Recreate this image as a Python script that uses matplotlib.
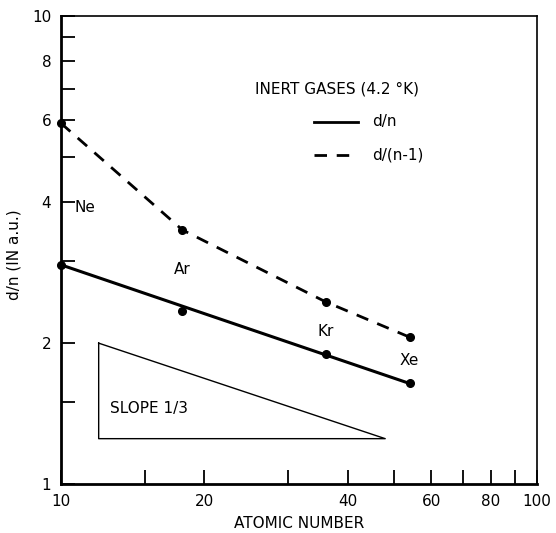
import matplotlib
matplotlib.use("Agg")
import matplotlib.pyplot as plt
from matplotlib.ticker import FixedLocator, FixedFormatter, NullLocator

# Data
elements = ["Ne", "Ar", "Kr", "Xe"]
atomic_number = [10, 18, 36, 54]
d_over_n = [2.94, 2.34, 1.90, 1.64]
d_over_n_minus_1 = [5.9, 3.49, 2.45, 2.06]

# straight fit through d/n
fit_x = [10, 54]
fit_y = [2.94, 1.64]

# slope 1/3 triangle
tri_x = [12, 12, 48, 12]
tri_y = [2.0, 1.25, 1.25, 2.0]

x_ticks = [10, 15, 20, 30, 40, 50, 60, 70, 80, 90, 100]
x_labels = ["10", "", "20", "", "40", "", "60", "", "80", "", "100"]
y_ticks = [1, 1.5, 2, 3, 4, 5, 6, 7, 8, 9, 10]
y_labels = ["1", "", "2", "", "4", "", "6", "", "8", "", "10"]

plt.rcParams['font.family'] = ['DejaVu Sans']

fig = plt.figure(figsize=(5.56, 5.33), dpi=100)
ax = fig.add_axes([0.1097, 0.0919, 0.856, 0.878])
ax.set_xscale("log")
ax.set_yscale("log")
ax.set_xlim(10, 100)
ax.set_ylim(1, 10)

# curves
ax.plot(fit_x, fit_y, color="black", lw=2.2, solid_capstyle="butt")
ax.plot(atomic_number, d_over_n_minus_1, color="black", lw=2, ls=(0, (4.5, 3.5)))
ax.plot(atomic_number, d_over_n, "o", color="black", ms=5.5, clip_on=False)
ax.plot(atomic_number, d_over_n_minus_1, "o", color="black", ms=5.5, clip_on=False)

# triangle
ax.plot(tri_x, tri_y, color="black", lw=1)
ax.text(12.7, 1.45, "SLOPE 1/3", fontsize=11, va="center", ha="left")

# element labels
label_pos = [(10.7, 3.9, "left"), (18, 2.87, "center"), (36, 2.12, "center"), (54, 1.84, "center")]
for name, (lx, ly, ha) in zip(elements, label_pos):
    ax.text(lx, ly, name, fontsize=11, ha=ha, va="center")

# legend drawn by hand
ax.text(0.408, 0.844, "INERT GASES (4.2 °K)", transform=ax.transAxes,
        fontsize=11, va="center", ha="left")
ax.plot([0.532, 0.624], [0.774, 0.774], color="black", lw=2, transform=ax.transAxes)
ax.plot([0.532, 0.624], [0.703, 0.703], color="black", lw=2,
        ls=(0, (4.5, 3.5)), transform=ax.transAxes)
ax.text(0.653, 0.774, "d/n", transform=ax.transAxes, fontsize=11, va="center")
ax.text(0.653, 0.703, "d/(n-1)", transform=ax.transAxes, fontsize=11, va="center")

# axes styling
ax.xaxis.set_major_locator(FixedLocator(x_ticks))
ax.xaxis.set_major_formatter(FixedFormatter(x_labels))
ax.xaxis.set_minor_locator(NullLocator())
ax.yaxis.set_major_locator(FixedLocator(y_ticks))
ax.yaxis.set_major_formatter(FixedFormatter(y_labels))
ax.yaxis.set_minor_locator(NullLocator())
ax.tick_params(direction="in", length=10, width=1.3, labelsize=11, pad=7,
               top=False, right=False)
ax.spines["left"].set_linewidth(2)
ax.spines["bottom"].set_linewidth(2)
ax.spines["top"].set_linewidth(1.2)
ax.spines["right"].set_linewidth(1.2)

ax.set_xlabel("ATOMIC NUMBER", fontsize=11, labelpad=5)
ax.set_ylabel("d/n (IN a.u.)", fontsize=11)
ax.yaxis.set_label_coords(-0.082, 0.49)

fig.savefig("out.png", dpi=100)
